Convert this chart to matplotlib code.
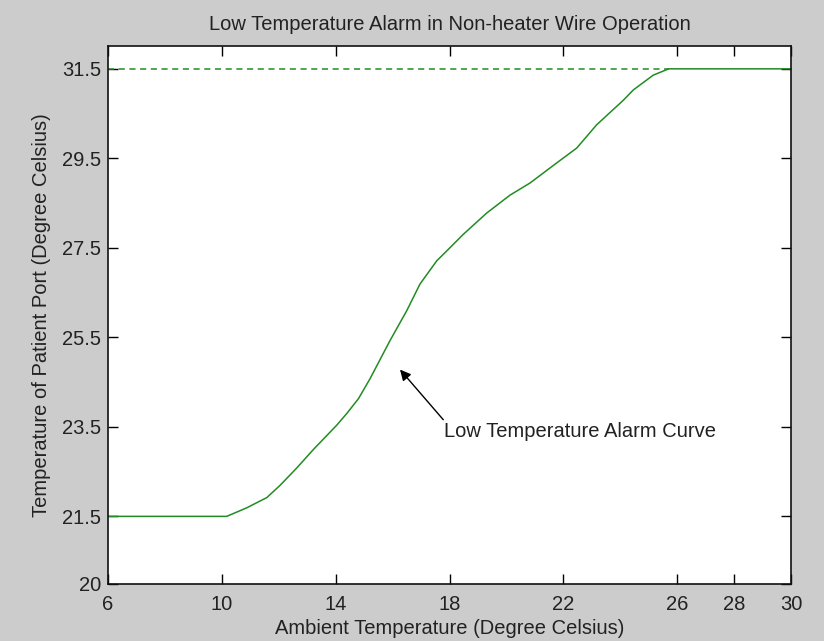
import numpy as np
import matplotlib.pyplot as plt

# values
amb_temp = [6, 10.17, 10.87, 11.58, 12.04, 12.63, 13.21, 14.04, 14.39, 14.8,
            15.21, 15.91, 16.5, 16.96, 17.55, 17.9, 18.48, 19.31, 20.13, 20.83,
            21.77, 22.47, 23.17, 24.11, 24.46, 25.16, 25.7, 30]
port_temp = [21.5, 21.5, 21.69, 21.92, 22.19, 22.58, 22.99, 23.54, 23.8, 24.13,
             24.58, 25.43, 26.1, 26.69, 27.21, 27.43, 27.8, 28.28, 28.68, 28.95,
             29.4, 29.73, 30.25, 30.8, 31.03, 31.36, 31.5, 31.5]
limit_x = [6, 25.7]
limit_y = [31.5, 31.5]

xticks = [6, 10, 14, 18, 22, 26, 28, 30]
yticks = [20, 21.5, 23.5, 25.5, 27.5, 29.5, 31.5]
ytick_labels = ["20", "21.5", "23.5", "25.5", "27.5", "29.5", "31.5"]

arrow_head = (16.26, 24.78)
arrow_tail = (17.78, 23.66)
label_pos = (17.8, 23.4)

plt.rcParams['font.family'] = ['Liberation Sans', 'DejaVu Sans']
fs = 14.5
txt = '#222222'
green = '#228B22'

fig = plt.figure(figsize=(8.24, 6.41), dpi=100, facecolor='#cccccc')
ax = fig.add_axes([0.1311, 0.0897, 0.8289, 0.8378])
ax.set_facecolor('white')

ax.plot(amb_temp, port_temp, color=green, lw=1.1)
ax.plot(limit_x, limit_y, color=green, lw=1.1, ls=(0, (4, 3)))

ax.annotate('', xy=arrow_head, xytext=arrow_tail,
            arrowprops=dict(arrowstyle='-|>', color='black', lw=1,
                            mutation_scale=16, shrinkA=0, shrinkB=0))
ax.text(label_pos[0], label_pos[1], 'Low Temperature Alarm Curve',
        ha='left', va='center', fontsize=fs, color=txt)

ax.set_xlim(6, 30)
ax.set_ylim(20, 32)
ax.set_xticks(xticks)
ax.set_yticks(yticks)
ax.set_yticklabels(ytick_labels)
ax.tick_params(direction='in', length=7, width=1, top=True, right=True,
               labelsize=fs, labelcolor=txt)
ax.tick_params(axis='x', pad=8)
ax.tick_params(axis='y', pad=5)
for s in ax.spines.values():
    s.set_linewidth(1.2)
    s.set_color('#111111')

ax.set_title('Low Temperature Alarm in Non-heater Wire Operation',
             fontsize=fs, color=txt, pad=12)
ax.set_xlabel('Ambient Temperature (Degree Celsius)', fontsize=fs, color=txt,
              labelpad=4)
ax.set_ylabel('Temperature of Patient Port (Degree Celsius)', fontsize=fs,
              color=txt, labelpad=8)

fig.savefig('out.png', dpi=100, facecolor=fig.get_facecolor())
